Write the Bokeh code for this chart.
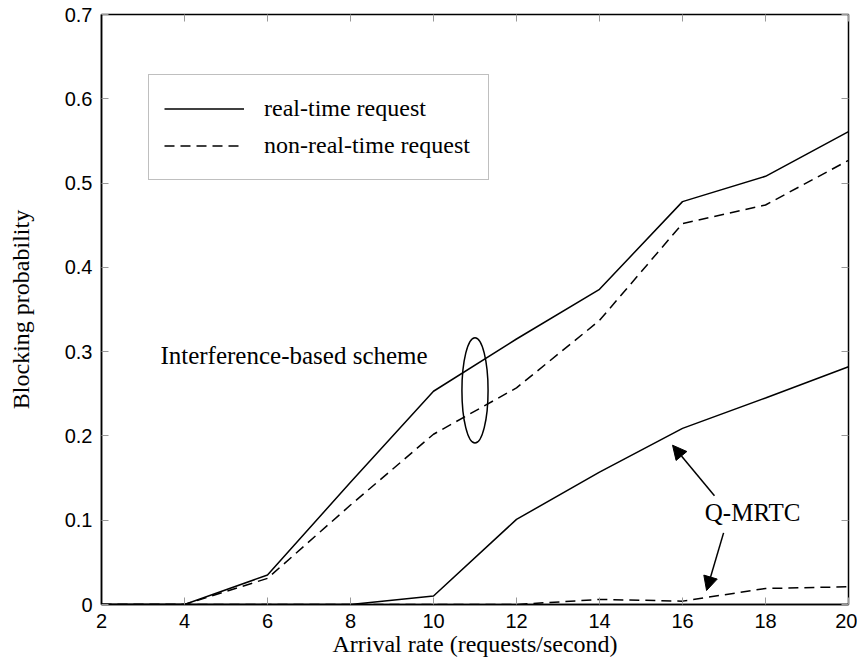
from bokeh.plotting import figure
from bokeh.models import (Range1d, FixedTicker, LinearAxis, Legend, LegendItem,
                          Label, Arrow, NormalHead, CustomLabelingPolicy)
from bokeh.embed import file_html
from bokeh.resources import INLINE

# ---- data ----
arrival = [2, 4, 6, 8, 10, 12, 14, 16, 18, 20]
ib_rt = [0, 0, 0.035, 0.145, 0.253, 0.315, 0.374, 0.478, 0.508, 0.561]
ib_nrt = [0, 0, 0.031, 0.118, 0.202, 0.257, 0.337, 0.452, 0.474, 0.527]
q_rt = [0, 0, 0, 0, 0.010, 0.101, 0.157, 0.209, 0.245, 0.282]
q_nrt = [0, 0, 0, 0, 0, 0, 0.006, 0.004, 0.019, 0.021]

x_ticks = [2, 4, 6, 8, 10, 12, 14, 16, 18, 20]
x_tick_labels = ["2", "4", "6", "8", "10", "12", "14", "16", "18", "20"]
y_ticks = [0, 0.1, 0.2, 0.3, 0.4, 0.5, 0.6, 0.7]
y_tick_labels = ["0", "0.1", "0.2", "0.3", "0.4", "0.5", "0.6", "0.7"]

SERIF = "Liberation Serif"
SANS = "Liberation Sans"
DASH = "10 6"

p = figure(width=857, height=662, output_backend="svg", toolbar_location=None,
           x_range=Range1d(2, 20), y_range=Range1d(0, 0.7),
           min_border_left=101, min_border_right=9, min_border_top=14,
           min_border_bottom=58)
p.grid.visible = False
p.outline_line_color = "black"
p.outline_line_width = 1.5
p.background_fill_color = "white"
p.border_fill_color = "white"

# axes
for ax, ticks, labels in ((p.xaxis[0], x_ticks, x_tick_labels),
                          (p.yaxis[0], y_ticks, y_tick_labels)):
    ax.ticker = FixedTicker(ticks=ticks)
    ax.major_label_overrides = {t: l for t, l in zip(ticks, labels)}
    ax.major_tick_in = 7
    ax.major_tick_out = 0
    ax.minor_tick_line_color = None
    ax.major_tick_line_color = "#999999"
    ax.axis_line_color = "black"
    ax.axis_line_width = 1.5
    ax.major_label_text_font = SANS
    ax.major_label_text_font_size = "20px"
    ax.major_label_text_color = "black"
    ax.axis_label_text_font = SERIF
    ax.axis_label_text_font_style = "normal"
    ax.axis_label_text_font_size = "24px"
    ax.axis_label_text_color = "black"

p.xaxis.axis_label = "Arrival rate (requests/second)"
p.xaxis.major_label_standoff = 9
p.xaxis.axis_label_standoff = 0
p.yaxis.axis_label = "Blocking probability"
p.yaxis.major_label_standoff = 9
p.yaxis.axis_label_standoff = 28

# mirrored ticks on top and right (no labels)
hide_all = CustomLabelingPolicy(code="return new Set()")
for loc, ticks in (("above", x_ticks), ("right", y_ticks)):
    ax = LinearAxis(ticker=FixedTicker(ticks=ticks))
    ax.major_tick_in = 7
    ax.major_tick_out = 0
    ax.minor_tick_line_color = None
    ax.major_tick_line_color = "#999999"
    ax.major_label_policy = hide_all
    ax.major_label_text_font_size = "1px"
    ax.major_label_standoff = 0
    ax.axis_line_color = None
    p.add_layout(ax, loc)

# lines
r1 = p.line(arrival, ib_rt, line_color="black", line_width=1.5)
r2 = p.line(arrival, ib_nrt, line_color="black", line_width=1.5, line_dash=DASH)
p.line(arrival, q_rt, line_color="black", line_width=1.5)
p.line(arrival, q_nrt, line_color="black", line_width=1.5, line_dash=DASH)

# ellipse around interference-based curves
p.ellipse(x=[11.0], y=[0.254], width=0.63, height=0.125, fill_alpha=0,
          line_color="black", line_width=1.5)

p.add_layout(Label(x=3.42, y=0.295, text="Interference-based scheme",
                   text_font=SERIF, text_font_size="25px", text_baseline="middle",
                   text_color="black"))
p.add_layout(Label(x=17.69, y=0.109, text="Q-MRTC", text_font=SERIF,
                   text_font_size="25px", text_baseline="middle",
                   text_align="center", text_color="black"))

p.add_layout(Arrow(end=NormalHead(size=14, fill_color="black", line_color="black"),
                   x_start=16.77, y_start=0.129, x_end=15.76, y_end=0.189,
                   line_color="black", line_width=1.5))
p.add_layout(Arrow(end=NormalHead(size=14, fill_color="black", line_color="black"),
                   x_start=16.99, y_start=0.085, x_end=16.58, y_end=0.0166,
                   line_color="black", line_width=1.5))

legend = Legend(items=[LegendItem(label="real-time request", renderers=[r1]),
                       LegendItem(label="non-real-time request", renderers=[r2])],
                location=(47, 424), orientation="vertical")
legend.label_text_font = SERIF
legend.label_text_font_size = "24px"
legend.label_text_color = "black"
legend.glyph_width = 80
legend.glyph_height = 37
legend.label_height = 37
legend.label_width = 209
legend.label_standoff = 20
legend.spacing = 0
legend.padding = 15
legend.margin = 0
legend.border_line_color = "#808080"
legend.border_line_width = 1.2
legend.background_fill_alpha = 1
p.add_layout(legend)

open("out.html", "w").write(file_html(p, INLINE))
